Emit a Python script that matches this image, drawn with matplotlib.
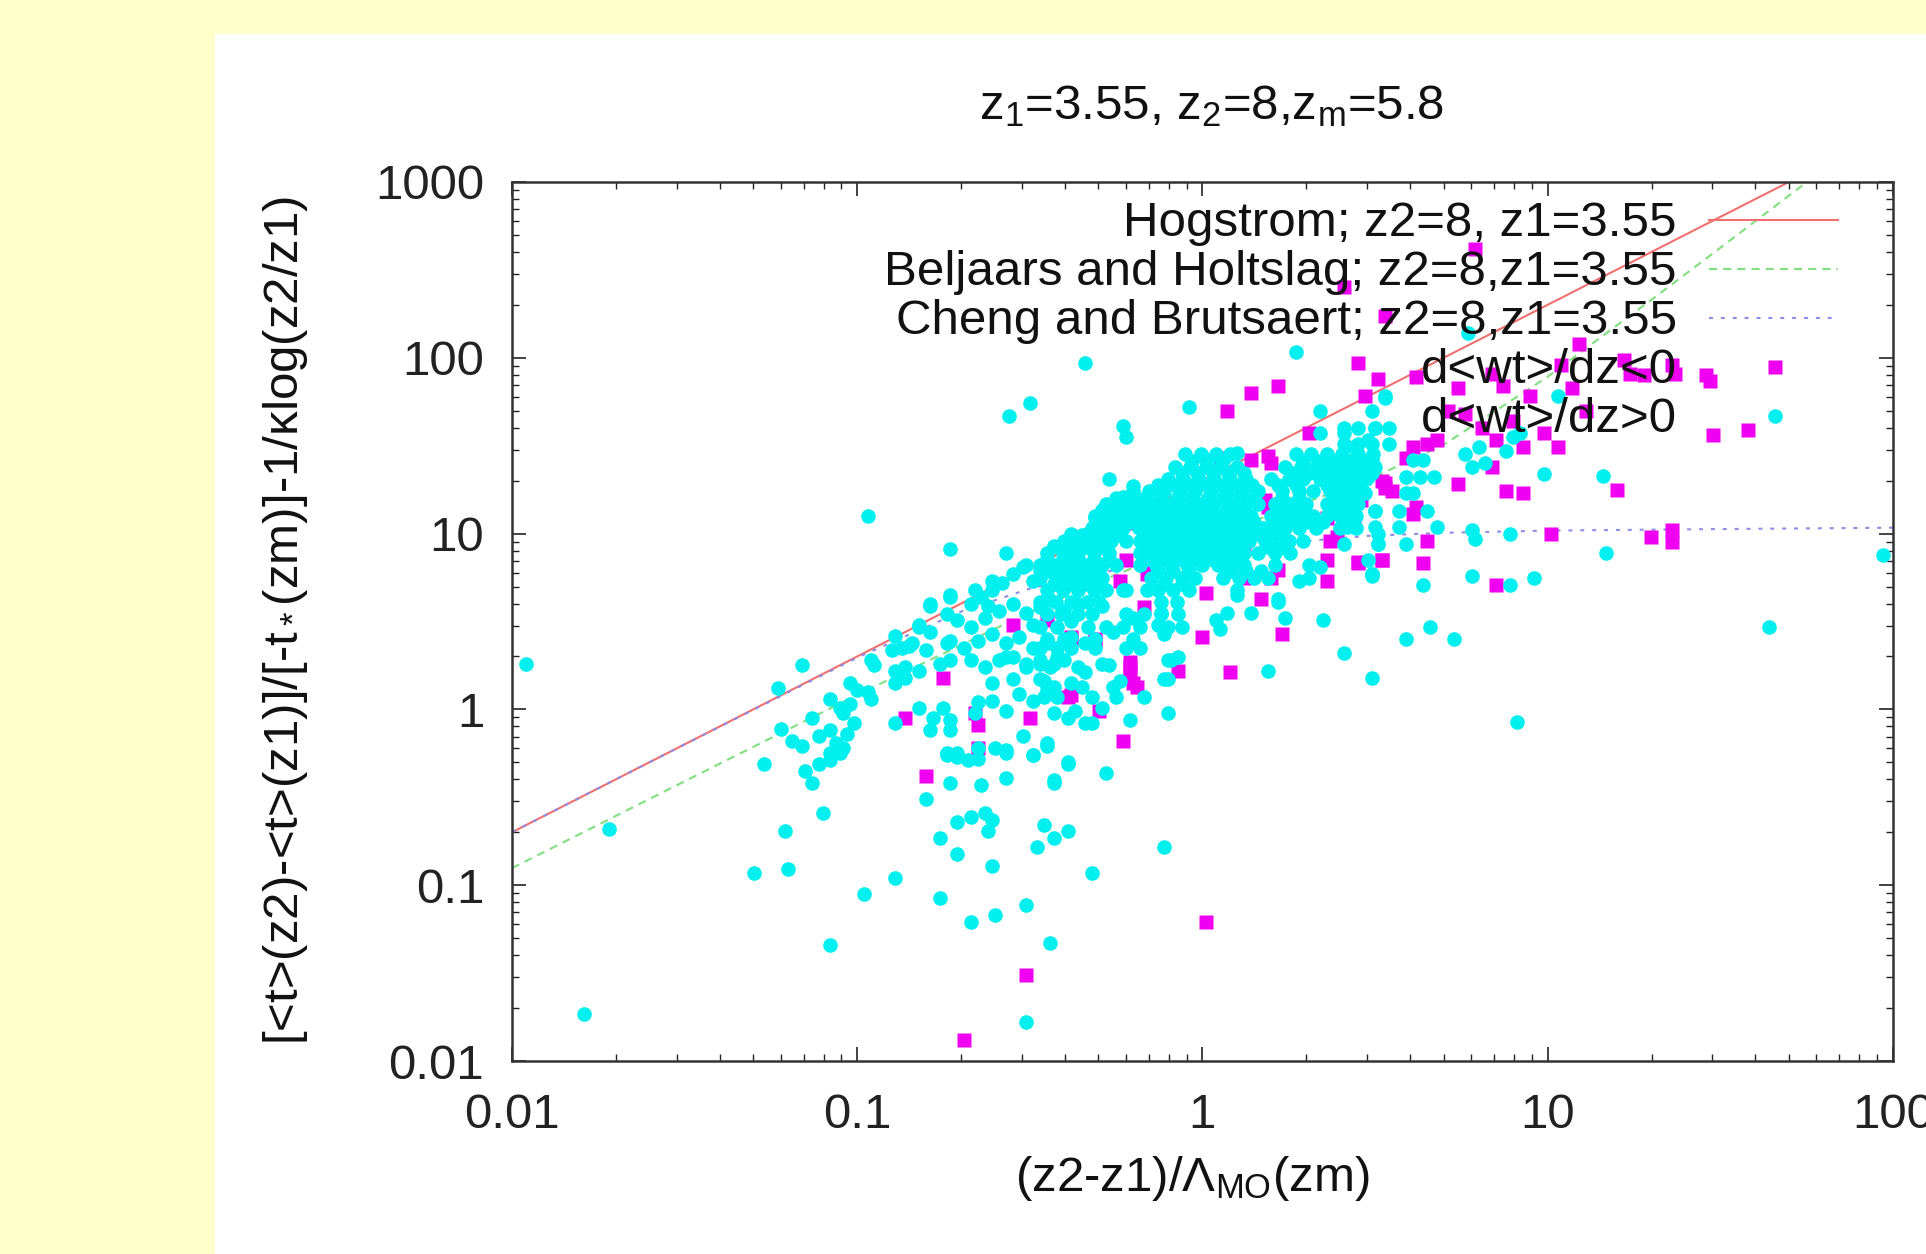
import numpy as np
import matplotlib
matplotlib.use("Agg")
import matplotlib.pyplot as plt
from matplotlib.patches import Rectangle
from matplotlib.lines import Line2D


# =====================================================
# 1. Data
# =====================================================

# model curves (x, y)
hog_x = [0.01, 0.1, 1, 10, 55]
hog_y = [0.2, 2.0, 20, 200, 1100]

bh_x = [0.01, 0.03, 0.1, 0.3, 0.5, 1, 2, 3, 5, 10, 20, 30, 56, 60]
bh_y = [0.125, 0.37, 1.21, 3.4, 5.3, 9.3, 15.1, 20.1, 32, 78, 214, 390, 990, 1100]

cb_x = [0.01, 0.03, 0.1, 0.2, 0.32, 0.6, 1, 1.66, 3, 5, 10, 30, 100]
cb_y = [0.2, 0.6, 1.97, 3.6, 4.9, 6.4, 7.6, 8.8, 9.7, 10.1, 10.4, 10.6, 10.8]

# scatter points as (log10 x, log10 y)
cyan_sparse = [
    (-1.96, 0.26), (-1.72, -0.68), (-1.79, -1.73), (-1.30, -0.93), (-1.20, -0.91),
    (-1.21, -0.69), (-1.27, -0.31), (-1.10, -0.59), (-1.08, -1.34), (-0.98, -1.05),
    (-0.89, -0.96), (-0.89, -0.08), (-0.80, -0.51), (-0.76, -0.73), (-0.71, -0.82),
    (-0.76, -1.07), (-0.67, -1.21), (-0.60, -1.17), (-0.51, -1.11), (-0.61, -0.89),
    (-0.71, -0.64), (-0.67, -0.61), (-0.63, -0.59), (-0.61, -0.63), (-0.62, -0.69),
    (-0.73, -0.42), (-0.64, -0.43), (-0.57, -0.39), (-0.74, -0.26), (-0.71, -0.27),
    (-0.65, -0.22), (-0.57, -0.23), (-0.49, -0.26), (-0.43, -0.42), (-0.39, -0.31),
    (-0.45, -0.21), (-0.46, -0.66), (-0.43, -0.73), (-0.39, -0.69), (-0.48, -0.78),
    (-0.44, -1.33), (-0.51, -1.78), (-0.32, -0.93), (-0.28, -0.36), (-0.21, -0.06),
    (-0.11, -0.78), (-0.10, -0.02),
    (1.97, 0.88), (1.64, 0.47), (0.91, -0.07), (0.66, 0.47), (0.73, 0.40),
    (0.27, 2.03), (-0.97, 1.10), (-0.56, 1.67), (-0.50, 1.74), (-0.34, 1.97),
]

cyan_band = [
    (-1.16, 0.25), (-1.23, 0.12), (-1.22, -0.11), (-1.19, -0.18), (-1.16, -0.21),
    (-1.13, -0.05), (-1.11, -0.15), (-1.08, -0.12), (-1.06, -0.19), (-1.04, -0.22),
    (-1.08, -0.25), (-1.15, -0.35), (-1.13, -0.42), (-1.11, -0.31), (-1.08, -0.29),
    (-1.05, -0.25), (-1.08, 0.06), (-1.05, 0.01), (-1.02, 0.03), (-1.04, -0.02),
    (-1.02, 0.15), (-1.00, 0.11), (-0.97, 0.10), (-0.96, 0.06), (-0.95, 0.25),
    (-1.01, -0.08), (-1.03, -0.14),
    (-0.90, 0.34), (-0.87, 0.35), (-0.84, 0.38), (-0.89, 0.22), (-0.86, 0.24),
    (-0.89, 0.15), (-0.86, 0.18), (-0.82, 0.22), (-0.82, 0.47), (-0.79, 0.44),
    (-0.80, 0.34), (-0.79, 0.59), (-0.73, 0.65), (-0.76, 0.26), (-0.73, 0.28),
    (-0.74, 0.38), (-0.82, 0.01), (-0.78, -0.05), (-0.75, 0.01), (-0.73, -0.06),
    (-0.73, -0.12), (-0.79, -0.12), (-0.74, -0.25), (-0.71, -0.25), (-0.68, -0.29),
    (-0.65, -0.28), (-0.61, 0.05), (-0.57, -0.01), (-0.53, 0.09), (-0.49, 0.05),
    (-0.45, 0.11), (-0.43, -0.02), (-0.39, -0.05), (-0.52, -0.15), (-0.49, -0.26),
    (-0.45, -0.19), (-0.39, -0.30), (-0.43, -0.40), (-0.34, -0.08), (-0.65, 0.04),
    (-0.66, -0.02), (-0.57, -0.25), (-0.60, -0.22),
    (-0.67, 0.60), (-0.64, 0.64), (-0.61, 0.68), (-0.58, 0.72), (-0.55, 0.77),
    (-0.52, 0.81), (-0.49, 0.73), (-0.47, 0.79), (-0.43, 0.81), (-0.38, 0.77),
    (-0.35, 0.72), (-0.71, 0.51), (-0.67, 0.47), (-0.63, 0.52), (-0.59, 0.56),
    (-0.55, 0.60), (-0.51, 0.55), (-0.47, 0.58), (-0.44, 0.62), (-0.40, 0.56),
    (-0.36, 0.60), (-0.73, 0.39), (-0.69, 0.35), (-0.65, 0.39), (-0.61, 0.43),
    (-0.57, 0.38), (-0.53, 0.41), (-0.49, 0.35), (-0.45, 0.39), (-0.42, 0.35),
    (-0.38, 0.41), (-0.34, 0.38), (-0.67, 0.28), (-0.63, 0.24), (-0.59, 0.28),
    (-0.55, 0.30), (-0.51, 0.26), (-0.47, 0.28), (-0.44, 0.24), (-0.40, 0.28),
    (-0.36, 0.24), (-0.61, 0.15), (-0.55, 0.17), (-0.47, 0.17), (-0.43, 0.13),
    (-0.38, 0.15),
    (-0.73, 0.91), (-0.23, 1.61), (-0.22, 1.55), (-0.27, 1.31), (-0.20, 1.27),
    (-0.23, 1.21), (-0.57, 0.89), (-0.51, 0.82), (-0.79, 0.60), (-0.73, 0.64),
    (-0.74, 0.54), (-0.66, 0.68), (-0.61, 0.73), (-0.62, 0.59), (-0.89, 0.42),
    (-0.85, 0.36), (-0.82, 0.48), (-0.96, 0.28), (-0.43, 0.93), (-0.38, 0.85),
    (-0.42, 0.73), (-0.35, 0.99), (-0.31, 1.09), (-0.26, 1.13), (-0.18, 1.15),
    (-0.16, 1.07), (-0.11, 1.09), (-0.57, 0.30), (-0.49, 0.48), (-0.45, 0.38),
    (-0.51, 0.24), (-0.42, 0.30), (-0.38, 0.50), (-0.29, 0.59), (-0.23, 0.68),
    (-0.26, 0.44), (-0.20, 0.52), (-0.13, 0.48), (-0.16, 0.68),
    (-0.32, -0.08), (-0.29, 0.01), (-0.10, 0.17), (-0.10, 0.28), (-0.12, 0.55),
    (-0.17, 0.07),
]

cyan_right = [
    (-0.04, 1.72), (0.34, 1.70), (0.53, 1.77), (0.34, 1.57), (0.35, 0.51),
    (0.41, 0.32), (0.49, 0.18), (0.19, 0.22), (0.24, 0.52), (0.22, 0.63),
    (0.14, 0.55), (0.04, 0.51), (0.07, 0.55), (0.05, 0.46), (0.10, 0.65),
    (0.28, 0.73), (0.31, 0.75), (0.34, 0.81), (0.49, 0.76), (0.50, 1.13),
    (0.51, 1.00), (0.51, 0.94), (0.41, 1.57), (0.44, 1.49), (0.48, 1.53),
    (0.50, 1.60), (0.00, 1.44), (0.10, 1.46), (-0.11, 0.17), (-0.09, 0.28),
    (-0.11, 0.43), (-0.07, 0.30), (-0.27, 0.25), (-0.26, 0.13), (-0.34, 0.21),
    (-0.35, 0.13), (-0.32, 0.07), (-0.37, -0.01),
    (0.77, 2.14), (0.53, 1.78), (1.03, 1.78), (0.99, 1.34), (1.16, 1.33),
    (1.17, 0.89), (0.78, 1.02), (0.79, 0.97), (0.89, 1.00), (0.78, 0.76),
    (0.89, 0.71), (0.96, 0.75), (0.64, 0.71), (0.49, 0.77), (0.59, 0.40),
    (0.76, 1.45), (0.80, 1.49), (0.78, 1.38), (0.82, 1.40), (0.88, 1.47),
    (0.90, 1.55), (0.92, 1.57),
    (0.32, 1.24), (0.30, 1.17), (0.29, 1.10), (0.32, 1.10), (0.24, 1.03),
    (0.29, 0.96), (0.29, 1.31), (0.28, 1.205), (0.27, 1.135), (0.26, 1.065),
    (0.35, 1.065),
]

# dense core, rows of (log10 y, [log10 x ...])
cyan_core_rows = [
    (1.45, [-0.05, -0.005, 0.04, 0.08, 0.27, 0.315, 0.36, 0.405, 0.45, 0.495]),
    (1.415, [-0.03, 0.015, 0.06, 0.29, 0.34, 0.385, 0.43, 0.475]),
    (1.38, [-0.08, -0.035, 0.01, 0.055, 0.10, 0.24, 0.285, 0.33, 0.375, 0.42, 0.465, 0.50]),
    (1.345, [-0.06, -0.015, 0.03, 0.075, 0.12, 0.26, 0.31, 0.355, 0.40, 0.445, 0.49]),
    (1.31, [-0.10, -0.055, -0.01, 0.035, 0.08, 0.125, 0.20, 0.25, 0.34, 0.385, 0.43, 0.475]),
    (1.275, [-0.13, -0.08, -0.035, 0.01, 0.055, 0.10, 0.145, 0.22, 0.27, 0.36, 0.405, 0.45]),
    (1.24, [-0.20, -0.155, -0.11, -0.065, -0.02, 0.025, 0.07, 0.115, 0.16, 0.23, 0.28,
            0.37, 0.415, 0.46]),
    (1.205, [-0.25, -0.21, -0.165, -0.12, -0.075, -0.03, 0.015, 0.06, 0.105, 0.15, 0.23,
             0.39, 0.435]),
    (1.17, [-0.28, -0.235, -0.19, -0.145, -0.10, -0.055, -0.01, 0.035, 0.08, 0.125, 0.16,
            0.21, 0.255, 0.36, 0.405, 0.45]),
    (1.135, [-0.29, -0.245, -0.20, -0.155, -0.11, -0.065, -0.02, 0.025, 0.07, 0.115, 0.22,
             0.38, 0.425]),
    (1.10, [-0.31, -0.265, -0.22, -0.175, -0.13, -0.085, -0.04, 0.005, 0.05, 0.095, 0.14,
            0.20, 0.245, 0.36, 0.40, 0.445]),
    (1.065, [-0.30, -0.255, -0.21, -0.165, -0.12, -0.075, -0.03, 0.015, 0.06, 0.105, 0.15,
             0.22, 0.30, 0.42]),
    (1.03, [-0.32, -0.275, -0.23, -0.185, -0.14, -0.095, -0.05, -0.005, 0.04, 0.085, 0.13,
            0.175, 0.20, 0.28, 0.33, 0.40, 0.445]),
    (0.995, [-0.38, -0.335, -0.29, -0.245, -0.16, -0.115, -0.07, -0.025, 0.02, 0.065, 0.11,
             0.155, 0.21]),
    (0.96, [-0.40, -0.355, -0.31, -0.265, -0.22, -0.18, -0.135, -0.09, -0.045, 0.0, 0.045,
            0.09, 0.135, 0.18, 0.225, 0.25]),
    (0.925, [-0.43, -0.385, -0.34, -0.29, -0.16, -0.115, -0.07, -0.025, 0.02, 0.065, 0.11,
             0.19, 0.235]),
    (0.89, [-0.45, -0.405, -0.36, -0.315, -0.27, -0.18, -0.135, -0.09, -0.045, 0.0, 0.045,
            0.09, 0.12, 0.16, 0.21, 0.255]),
    (0.855, [-0.45, -0.405, -0.36, -0.315, -0.27, -0.16, -0.115, -0.07, -0.025, 0.02,
             0.065, 0.105]),
    (0.82, [-0.47, -0.425, -0.38, -0.335, -0.29, -0.25, -0.18, -0.135, -0.09, -0.045, 0.0,
            0.045, 0.09, 0.12, 0.21, 0.31]),
    (0.785, [-0.45, -0.405, -0.36, -0.31, -0.13, -0.085, -0.04, 0.08, 0.125, 0.17]),
    (0.75, [-0.47, -0.425, -0.38, -0.335, -0.29, -0.15, -0.105, -0.06, -0.02, 0.06, 0.105,
            0.15, 0.19]),
    (0.715, [-0.43, -0.385, -0.34, -0.30, -0.11, -0.06]),
    (0.68, [-0.45, -0.405, -0.36, -0.315, -0.28, -0.22, -0.13, -0.085, -0.04, 0.10]),
    (0.61, [-0.47, -0.425, -0.38, -0.335, -0.30, -0.12, -0.075, 0.22]),
    (0.54, [-0.45, -0.41, -0.36, -0.32, -0.22, -0.17, -0.12, -0.07]),
    (0.47, [-0.47, -0.42, -0.33, -0.28, -0.23, -0.18, -0.10, -0.06]),
    (0.40, [-0.45, -0.40, -0.31, -0.20]),
    (0.35, [-0.47, -0.42, -0.38, -0.31, -0.22, -0.18]),
    (0.26, [-0.47, -0.43, -0.29]),
    (0.16, [-0.46, -0.24]),
    (0.07, [-0.46, -0.42, -0.25]),
    # right-hand lobe
    (1.70, [0.49]),
    (1.60, [0.41, 0.45, 0.50, 0.54]),
    (1.51, [0.41, 0.45, 0.49, 0.54]),
    (1.42, [0.41, 0.49, 0.61, 0.64]),
    (1.32, [0.43, 0.48, 0.59, 0.63, 0.67]),
    (1.23, [0.43, 0.47, 0.59, 0.61]),
    (1.13, [0.39, 0.43, 0.50, 0.57, 0.65]),
    (1.04, [0.42, 0.50, 0.57, 0.68]),
    (0.94, [0.41, 0.51, 0.59]),
    (0.85, [0.48]),
    (0.77, [0.49]),
]

magenta_pts = [
    (-0.80, -0.38), (-0.51, -1.51), (-0.69, -1.88), (0.01, -1.21), (-0.86, -0.05),
    (-0.75, 0.18), (-0.65, -0.09), (-0.65, -0.22), (-0.50, -0.05), (-0.39, 0.07),
    (-0.38, 0.40), (-0.45, 0.51), (-0.55, 0.48), (-0.66, -0.02), (-0.23, -0.18),
    (-0.31, 0.39), (-0.21, 0.24), (-0.20, 0.15),
    (0.47, 1.78), (0.07, 1.70), (0.14, 1.80), (0.22, 1.84), (0.31, 1.57),
    (0.08, 0.21), (0.00, 0.41), (0.23, 0.43), (0.17, 0.63), (0.01, 0.66),
    (0.36, 0.73), (0.36, 0.85), (0.45, 0.84), (0.52, 0.85), (0.52, 1.30),
    (0.53, 1.26), (0.45, 1.39), (0.19, 1.44), (0.20, 1.40), (0.05, 1.43),
    (0.14, 1.42), (0.18, 1.19), (0.19, 1.15), (0.37, 0.96), (0.39, 0.98),
    (0.36, 1.09), (0.44, 1.09), (0.46, 1.19), (0.12, 0.92), (0.12, 0.75),
    (0.20, 0.75), (0.22, 0.79), (-0.16, 0.77), (-0.14, 0.79), (-0.24, 0.73),
    (-0.21, 1.06), (-0.22, 0.85), (-0.38, 0.41), (-0.31, 0.40), (-0.17, 0.58),
    (-0.21, 0.27), (-0.21, 0.21), (-0.19, 0.13), (-0.07, 0.22), (-0.38, 0.08),
    (-0.30, -0.01),
    (0.53, 2.24), (0.41, 2.40), (0.79, 2.62), (0.45, 1.97), (0.51, 1.88),
    (0.62, 1.89), (0.74, 1.83), (0.87, 1.84), (0.95, 1.78), (0.84, 1.91),
    (1.09, 2.08), (1.04, 1.96), (1.07, 1.83), (1.11, 1.70), (1.22, 1.99),
    (1.24, 1.91), (1.28, 1.90), (0.71, 1.70), (0.76, 1.68), (0.81, 1.60),
    (0.85, 1.53), (0.90, 1.64), (0.99, 1.57), (1.03, 1.49), (0.93, 1.49),
    (0.68, 1.53), (0.65, 1.51), (0.61, 1.49), (0.59, 1.43), (0.84, 1.38),
    (0.74, 1.28), (0.88, 1.24), (0.93, 1.23), (1.20, 1.25), (1.01, 1.00),
    (1.30, 0.98), (1.36, 1.02), (1.36, 0.95), (0.85, 0.71), (0.45, 1.38),
    (0.53, 1.29), (0.55, 1.24), (0.62, 1.15), (0.61, 1.11), (0.65, 0.96),
    (0.64, 0.83), (0.52, 0.85), (0.45, 0.83),
    (1.36, 1.96), (1.37, 1.91), (1.46, 1.90), (1.47, 1.87), (1.48, 1.56),
    (1.58, 1.59),
]

x_ticks = [0.01, 0.1, 1, 10, 100]
x_tick_labels = ["0.01", "0.1", "1", "10", "100"]
y_ticks = [0.01, 0.1, 1, 10, 100, 1000]
y_tick_labels = ["0.01", "0.1", "1", "10", "100", "1000"]

legend_labels = [
    "Hogstrom; z2=8, z1=3.55",
    "Beljaars and Holtslag; z2=8,z1=3.55",
    "Cheng and Brutsaert; z2=8,z1=3.55",
    "d<wt>/dz<0",
    "d<wt>/dz>0",
]

RED = "#F07070"
GREEN = "#80E080"
BLUE = "#8C8CE6"
CYAN = "#00F0F0"
MAGENTA = "#F000F0"
YELLOW = "#FFFFCC"
FS = 35.5


def unlog(pairs):
    a = np.array(pairs, dtype=float)
    return 10 ** a[:, 0], 10 ** a[:, 1]


# =====================================================
# 2. Figure
# =====================================================

plt.rcParams.update({
    "font.family": ["Liberation Sans", "DejaVu Sans"],
    "mathtext.fontset": "custom",
    "mathtext.rm": "Liberation Sans",
    "mathtext.it": "Liberation Sans:italic",
    "mathtext.sf": "Liberation Sans",
})

fig = plt.figure(figsize=(19.26, 12.54), dpi=100, facecolor=YELLOW)
# white panel behind the plot (yellow margin on left and top)
fig.patches.append(Rectangle((215 / 1926, 0), 1, 1 - 34 / 1254,
                             transform=fig.transFigure, facecolor="white",
                             edgecolor="none", zorder=-10))

ax = fig.add_axes([0.2658, 0.1539, 0.7170, 0.7010])
ax.set_zorder(1)
ax.set_xscale("log")
ax.set_yscale("log")
ax.set_xlim(0.01, 100)
ax.set_ylim(0.01, 1000)

ax.plot(hog_x, hog_y, color=RED, lw=1.5, zorder=2)
ax.plot(bh_x, bh_y, color=GREEN, lw=1.5, ls=(0, (3.9, 2.9)), zorder=2)
ax.plot(cb_x, cb_y, color=BLUE, lw=1.5, ls=(0, (1.9, 3.8)), zorder=2)

mx, my = unlog(magenta_pts)
ax.plot(mx, my, "s", ms=9.5, color=MAGENTA, mec="none", zorder=3)

core = [(lx, ly) for ly, xs in cyan_core_rows for lx in xs]
cx, cy = unlog(cyan_sparse + cyan_band + cyan_right + core)
ax.plot(cx, cy, "o", ms=10.5, color=CYAN, mec="none", zorder=4)

# gnuplot style key: text right aligned, sample to the right
key_text_x = 0.8436
key_line = (0.8668, 0.9602)
key_rows = [0.9568, 0.9010, 0.8453, 0.7895, 0.7338]
styles = [
    dict(color=RED, lw=1.5),
    dict(color=GREEN, lw=1.5, ls=(0, (3.9, 2.9))),
    dict(color=BLUE, lw=1.5, ls=(0, (1.9, 3.8))),
]
for i, (lab, ky) in enumerate(zip(legend_labels, key_rows)):
    ax.text(key_text_x, ky - 0.004, lab, transform=ax.transAxes, ha="right",
            va="center", fontsize=FS, color="#111111", zorder=6)
    if i < 3:
        ax.add_line(Line2D(key_line, [ky, ky], transform=ax.transAxes,
                           zorder=5, **styles[i]))
ax.plot([0.9146], [key_rows[3]], "s", ms=9.5, color=MAGENTA, mec="none",
        transform=ax.transAxes, zorder=5, clip_on=False)
ax.plot([0.9146], [key_rows[4]], "o", ms=10.5, color=CYAN, mec="none",
        transform=ax.transAxes, zorder=5, clip_on=False)

ax.set_xticks(x_ticks)
ax.set_xticklabels(x_tick_labels)
ax.set_yticks(y_ticks)
ax.set_yticklabels(y_tick_labels)
ax.xaxis.set_minor_locator(matplotlib.ticker.LogLocator(base=10, subs=np.arange(2, 10)))
ax.yaxis.set_minor_locator(matplotlib.ticker.LogLocator(base=10, subs=np.arange(2, 10)))
ax.xaxis.set_minor_formatter(matplotlib.ticker.NullFormatter())
ax.yaxis.set_minor_formatter(matplotlib.ticker.NullFormatter())
ax.tick_params(which="both", direction="in", top=True, right=True,
               labelsize=FS, colors="#222222")
ax.tick_params(which="major", length=10, width=1.2)
ax.tick_params(which="minor", length=5, width=1.0)
ax.tick_params(axis="x", pad=23)
ax.tick_params(axis="y", pad=20)
for s in ax.spines.values():
    s.set_linewidth(1.8)
    s.set_color("#333333")

fig.text(0.629, 0.915, r"z$_1$=3.55, z$_2$=8,z$_\mathrm{m}$=5.8",
         ha="center", va="center", fontsize=FS, color="#111111")
fig.text(0.148, 0.505, r"[<t>(z2)-<t>(z1)]/[-t$_*$(zm)]-1/κlog(z2/z1)",
         rotation=90, ha="center", va="center", fontsize=FS, color="#111111")
fig.text(0.619, 0.060, r"(z2-z1)/Λ$_\mathrm{MO}$(zm)",
         ha="center", va="center", fontsize=FS, color="#111111")

fig.savefig("out.png", dpi=100, facecolor=YELLOW)
